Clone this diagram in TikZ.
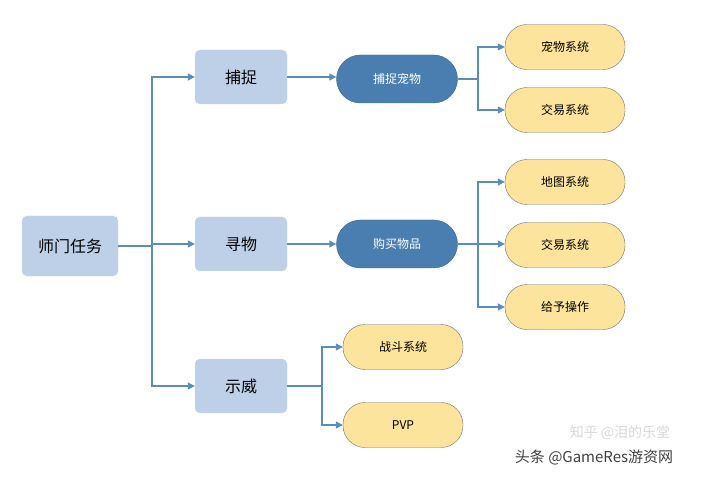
\documentclass[tikz,border=0pt]{standalone}
\usepackage{fontspec}
\setmainfont{Noto Sans CJK SC}
\usetikzlibrary{arrows.meta,positioning,calc}
\definecolor{lightbox}{RGB}{190,208,232}
\definecolor{darkbox}{RGB}{74,125,176}
\definecolor{yellowbox}{RGB}{252,228,156}
\definecolor{linkblue}{RGB}{91,141,184}
\tikzset{
  task/.style={draw=lightbox!80!white, fill=lightbox, rounded corners=5pt, minimum width=92pt, minimum height=54pt, font=\fontsize{16}{16}\selectfont},
  action/.style={draw=darkbox!80!black, fill=darkbox, text=white, rounded corners=24pt, minimum width=121pt, minimum height=48pt, font=\fontsize{12}{12}\selectfont},
  sys/.style={draw=black!55, fill=yellowbox, rounded corners=22pt, minimum width=120pt, minimum height=45pt, font=\fontsize{12}{12}\selectfont},
  link/.style={draw=linkblue, line width=1.1pt, -{Triangle[length=7pt,width=7pt]}},
}
\begin{document}
\begin{tikzpicture}[x=1pt, y=-1pt]
  \useasboundingbox (0,0) rectangle (709,478);
  % 第一层
  \node[task, minimum width=96pt, minimum height=60pt] (root) at (70,246) {师门任务};
  % 第二层
  \node[task] (catch) at (241,77) {捕捉};
  \node[task] (seek) at (241,244) {寻物};
  \node[task] (show) at (241,386) {示威};
  % 第三层
  \node[action] (catchpet) at (397,79) {捕捉宠物};
  \node[action] (buy) at (397,244) {购买物品};
  \node[sys] (fight) at (403,347) {战斗系统};
  \node[sys] (pvp) at (403,425) {PVP};
  % 第四层
  \node[sys] (pet) at (565,47) {宠物系统};
  \node[sys] (trade1) at (565,110) {交易系统};
  \node[sys] (map) at (565,182) {地图系统};
  \node[sys] (trade2) at (565,245) {交易系统};
  \node[sys] (give) at (565,307) {给予操作};
  % 分支点
  \coordinate (b1) at (152,246);
  \coordinate (b2) at (478,79);
  \coordinate (b3) at (478,244);
  \coordinate (b4) at (322,386);
  % 连线
  \draw[link, -] (root.east) -- (b1);
  \draw[link] (b1) |- (catch.west);
  \draw[link] (b1) |- (seek.west);
  \draw[link] (b1) |- (show.west);
  \draw[link] (catch.east) -- (catch.east -| catchpet.west);
  \draw[link] (seek.east) -- (seek.east -| buy.west);
  \draw[link, -] (catchpet.east) -- (b2);
  \draw[link] (b2) |- (pet.west);
  \draw[link] (b2) |- (trade1.west);
  \draw[link, -] (buy.east) -- (b3);
  \draw[link] (b3) |- (map.west);
  \draw[link] (b3) -- (b3 -| trade2.west);
  \draw[link] (b3) |- (give.west);
  \draw[link, -] (show.east) -- (b4);
  \draw[link] (b4) |- (fight.west);
  \draw[link] (b4) |- (pvp.west);
  % 水印
  \node[text=black!15, font=\fontsize{14}{14}\selectfont] (zh) at (620,433) {知乎 @泪的乐堂};
  \node[text=black!75, font=\fontsize{15}{15}\selectfont] (mark) at (594,457) {头条 @GameRes游资网};
\end{tikzpicture}
\end{document}
